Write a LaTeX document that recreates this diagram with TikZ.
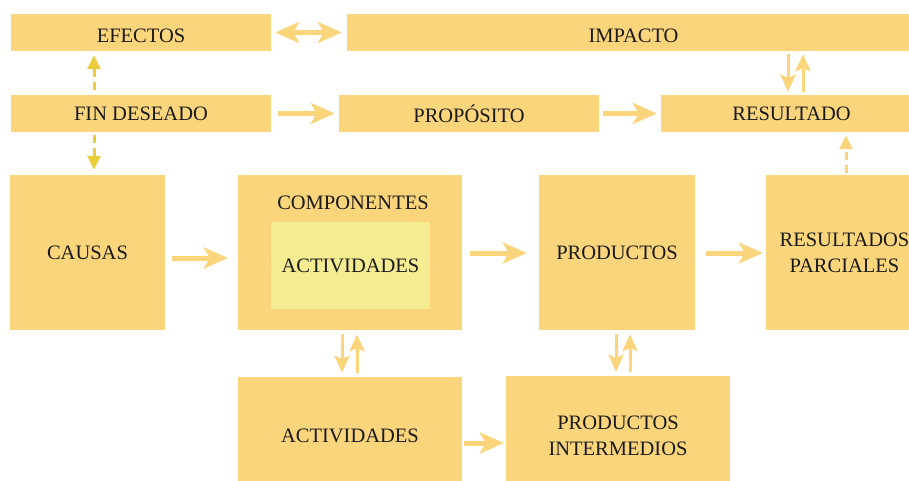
\documentclass[tikz,border=0pt]{standalone}
\usepackage{fontspec}
\setmainfont{Liberation Serif}
\usetikzlibrary{arrows.meta}
\definecolor{boxc}{HTML}{FBD57B}
\definecolor{innerc}{HTML}{F5EB90}
\definecolor{dashc}{HTML}{E9CD3B}
\definecolor{txt}{HTML}{1A1A1A}
\begin{document}
\begin{tikzpicture}[x=1pt,y=-1pt,
  box/.style={fill=boxc, inner sep=0pt, text=txt, font=\fontsize{20.5}{26}\selectfont, align=center},
  lbl/.style={inner sep=0pt, text=txt, font=\fontsize{20.5}{26}\selectfont, align=center},
  bigarrow/.style={draw=boxc, line width=5pt, -{Stealth[length=24pt,width=21pt,inset=6pt]}},
  dblarrow/.style={draw=boxc, line width=5pt, {Stealth[length=24pt,width=21pt,inset=6pt]}-{Stealth[length=24pt,width=21pt,inset=6pt]}},
  smallarrow/.style={draw=boxc, line width=3pt, -{Stealth[length=17pt,width=15pt,inset=3pt]}},
  dasharrow/.style={draw=dashc, line width=3pt, dash pattern=on 8pt off 5pt, -{Triangle[length=14pt,width=13pt]}},
  dasharrowlight/.style={draw=boxc, line width=3pt, dash pattern=on 8pt off 5pt, -{Triangle[length=14pt,width=13pt]}}]
\useasboundingbox (0,0) rectangle (909,481);

% top row
\node[box, minimum width=260pt, minimum height=37pt] (efectos) at (141,32.5) {\raisebox{-3.5pt}[14pt][0pt]{EFECTOS}};
\node[box, minimum width=573pt, minimum height=37pt] (impacto) at (633.5,32.5) {\raisebox{-3.5pt}[14pt][0pt]{IMPACTO}};
% second row
\node[box, minimum width=260pt, minimum height=37pt] (fin) at (141,113.5) {FIN DESEADO};
\node[box, minimum width=260pt, minimum height=37pt] (proposito) at (469,113.5) {PROPÓSITO};
\node[box, minimum width=261pt, minimum height=37pt] (resultado) at (791.5,113.5) {RESULTADO};
% third row
\node[box, minimum width=155pt, minimum height=155pt] (causas) at (87.5,252.5) {CAUSAS};
\node[box, minimum width=224pt, minimum height=155pt] (componentes) at (350,252.5) {};
\node[lbl] (complabel) at (353,203) {COMPONENTES};
\node[box, fill=innerc, minimum width=159pt, minimum height=87pt] (inneract) at (350.5,265.5) {ACTIVIDADES};
\node[box, minimum width=156pt, minimum height=155pt] (productos) at (617,252.5) {PRODUCTOS};
\node[box, minimum width=157pt, minimum height=155pt] (parciales) at (844.5,252.5) {RESULTADOS\\PARCIALES};
% bottom row
\node[box, minimum width=224pt, minimum height=118pt] (actividades) at (350,436) {ACTIVIDADES};
\node[box, minimum width=224pt, minimum height=120pt] (intermedios) at (618,436) {PRODUCTOS\\INTERMEDIOS};

% horizontal arrows
\draw[dblarrow] ([xshift=4pt]efectos.east) -- ([xshift=-5pt]impacto.west);
\draw[bigarrow] ([xshift=7pt]fin.east) -- ([xshift=-4pt]proposito.west);
\draw[bigarrow] ([xshift=4pt]proposito.east) -- ([xshift=-4pt]resultado.west);
\draw[bigarrow] ([xshift=7pt,yshift=-5.5pt]causas.east) -- ([xshift=-10pt,yshift=-5.5pt]componentes.west);
\draw[bigarrow] ([xshift=8pt,yshift=-0.5pt]componentes.east) -- ([xshift=-12pt,yshift=-0.5pt]productos.west);
\draw[bigarrow] ([xshift=11pt,yshift=-0.5pt]productos.east) -- ([xshift=-3pt,yshift=-0.5pt]parciales.west);
\draw[bigarrow] ([xshift=2pt,yshift=-7pt]actividades.east) -- ([xshift=-2pt,yshift=-7pt]intermedios.west);

% dashed arrows
\coordinate (finx) at ([xshift=-47pt]fin.north);
\coordinate (finy) at ([xshift=-47pt]fin.south);
\draw[dasharrow] ([yshift=5pt]finx) -- ([yshift=-4pt]finx |- efectos.south);
\draw[dasharrow] ([yshift=-3pt]finy) -- ([yshift=5pt]finy |- causas.north);
\coordinate (parx) at ([xshift=1.5pt]parciales.north);
\draw[dasharrowlight] ([yshift=2pt]parx) -- ([yshift=-3pt]parx |- resultado.south);

% small double arrows
\coordinate (rdn) at ([xshift=-3.5pt]resultado.north);
\coordinate (rup) at ([xshift=11.5pt]resultado.north);
\draw[smallarrow] ([yshift=-3pt]rdn |- impacto.south) -- ([yshift=3pt]rdn);
\draw[smallarrow] ([yshift=3pt]rup) -- ([yshift=-3pt]rup |- impacto.south);

\coordinate (cdn) at ([xshift=-8pt]componentes.south);
\coordinate (cup) at ([xshift=7pt]componentes.south);
\draw[smallarrow] ([yshift=-4pt]cdn) -- ([yshift=4pt]cdn |- actividades.north);
\draw[smallarrow] ([yshift=4pt]cup |- actividades.north) -- ([yshift=-4pt]cup);

\coordinate (pdn) at ([xshift=-1pt]productos.south);
\coordinate (pup) at ([xshift=13pt]productos.south);
\draw[smallarrow] ([yshift=-4pt]pdn) -- ([yshift=4pt]pdn |- intermedios.north);
\draw[smallarrow] ([yshift=4pt]pup |- intermedios.north) -- ([yshift=-4pt]pup);
\end{tikzpicture}
\end{document}
